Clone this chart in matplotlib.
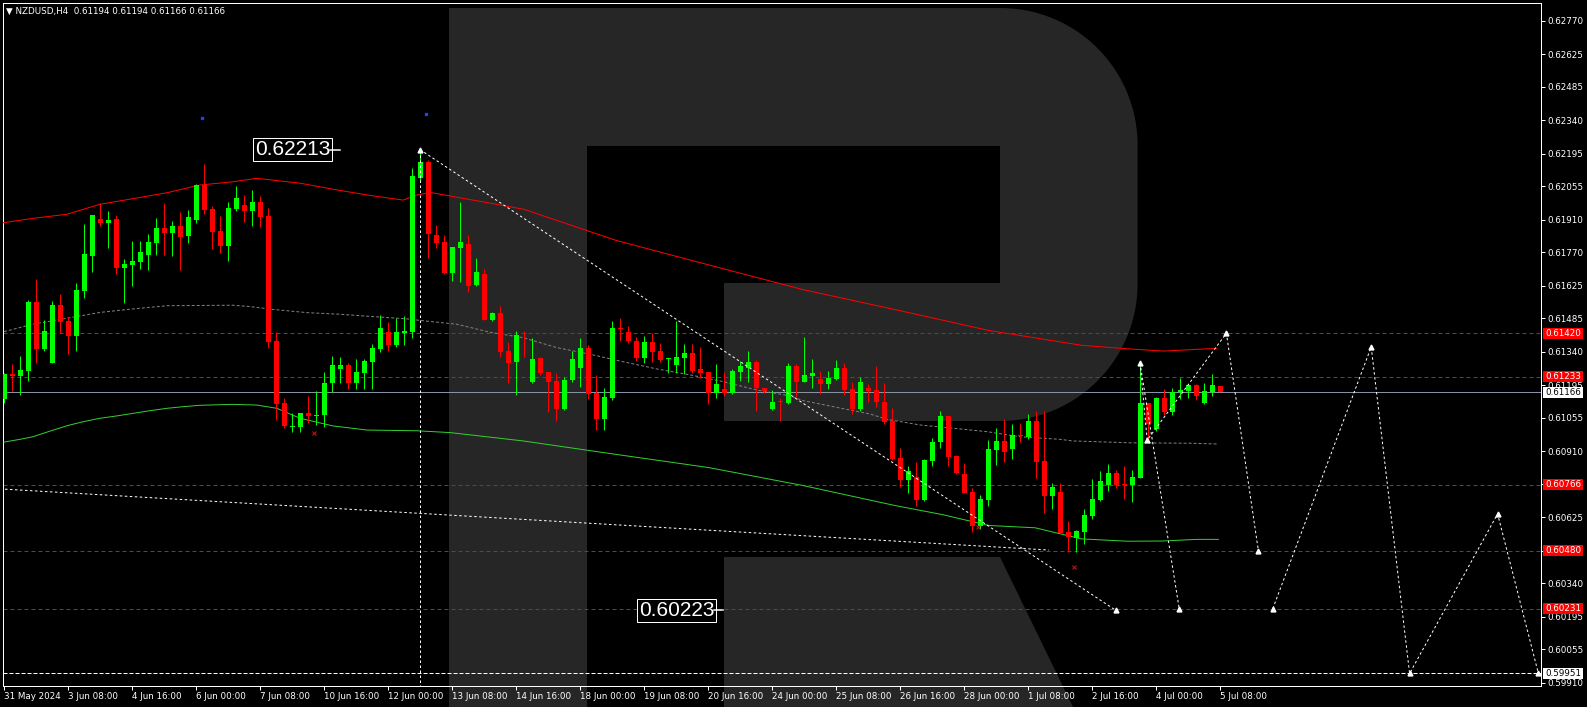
import numpy as np
import matplotlib
matplotlib.use("Agg")
import matplotlib.pyplot as plt
from matplotlib.patches import Polygon, Rectangle
from matplotlib.transforms import blended_transform_factory

plt.rcParams["lines.scale_dashes"] = False
plt.rcParams["font.family"] = ["DejaVu Sans"]

W, H = 1587, 707
PT = 0.72  # points per pixel at dpi 100

# NZDUSD H4 candles, 31 May 2024 00:00 .. 5 Jul 2024 08:00
opens = [0.61136, 0.61244, 0.61235, 0.61257, 0.61555, 0.61352, 0.61292, 0.61542, 0.61473, 0.61408,
         0.61603, 0.61754, 0.61913, 0.61896, 0.61913, 0.61702, 0.61715, 0.61727, 0.61758, 0.61810,
         0.61875, 0.61853, 0.61883, 0.61840, 0.61909, 0.62060, 0.61957, 0.61862, 0.61797, 0.61957,
         0.61974, 0.61948, 0.61987, 0.61926, 0.61387, 0.61119, 0.61015, 0.61015, 0.61076, 0.61063,
         0.61067, 0.61205, 0.61266, 0.61283, 0.61205, 0.61248, 0.61296, 0.61352, 0.61426, 0.61370,
         0.61421, 0.61426, 0.62091, 0.62160, 0.61845, 0.61814, 0.61680, 0.61788, 0.61805, 0.61628,
         0.61676, 0.61477, 0.61507, 0.61344, 0.61296, 0.61421, 0.61210, 0.61313, 0.61253, 0.61214,
         0.61093, 0.61218, 0.61270, 0.61357, 0.61162, 0.61050, 0.61141, 0.61443, 0.61426, 0.61387,
         0.61313, 0.61383, 0.61344, 0.61309, 0.61283, 0.61313, 0.61335, 0.61266, 0.61253, 0.61162,
         0.61179, 0.61162, 0.61253, 0.61270, 0.61296, 0.61184, 0.61093, 0.61128, 0.61119, 0.61279,
         0.61210, 0.61235, 0.61222, 0.61201, 0.61222, 0.61270, 0.61179, 0.61093, 0.61184, 0.61175,
         0.61123, 0.61041, 0.60881, 0.60786, 0.60799, 0.60700, 0.60868, 0.60950, 0.61063, 0.60890,
         0.60812, 0.60735, 0.60588, 0.60700, 0.60916, 0.60955, 0.60920, 0.60981, 0.60972, 0.61041,
         0.60868, 0.60717, 0.60735, 0.60562, 0.60536, 0.60562, 0.60631, 0.60700, 0.60765, 0.60817,
         0.60769, 0.60765, 0.60795, 0.61119, 0.61007, 0.61141, 0.61080, 0.61166, 0.61171, 0.61197,
         0.61119, 0.61166, 0.61194]
highs = [0.61248, 0.61288, 0.61322, 0.61564, 0.61654, 0.61477, 0.61560, 0.61590, 0.61490, 0.61637,
         0.61892, 0.61931, 0.61982, 0.61948, 0.61931, 0.61741, 0.61818, 0.61818, 0.61849, 0.61918,
         0.61982, 0.61905, 0.61943, 0.61952, 0.62065, 0.62151, 0.61970, 0.61926, 0.61987, 0.62056,
         0.62017, 0.62039, 0.62013, 0.61961, 0.61426, 0.61141, 0.61076, 0.61076, 0.61149, 0.61171,
         0.61253, 0.61322, 0.61318, 0.61292, 0.61309, 0.61309, 0.61374, 0.61499, 0.61468, 0.61486,
         0.61495, 0.62133, 0.62213, 0.62168, 0.61888, 0.61845, 0.61793, 0.61987, 0.61845, 0.61745,
         0.61697, 0.61512, 0.61538, 0.61383, 0.61430, 0.61430, 0.61400, 0.61318, 0.61253, 0.61248,
         0.61231, 0.61344, 0.61400, 0.61370, 0.61240, 0.61184, 0.61473, 0.61486, 0.61452, 0.61404,
         0.61408, 0.61421, 0.61378, 0.61313, 0.61473, 0.61374, 0.61374, 0.61361, 0.61253, 0.61288,
         0.61253, 0.61266, 0.61300, 0.61344, 0.61305, 0.61184, 0.61175, 0.61141, 0.61292, 0.61288,
         0.61404, 0.61309, 0.61257, 0.61257, 0.61305, 0.61292, 0.61210, 0.61231, 0.61201, 0.61279,
         0.61205, 0.61097, 0.60924, 0.60847, 0.60864, 0.60877, 0.60968, 0.61085, 0.61063, 0.60894,
         0.60860, 0.60752, 0.60722, 0.60959, 0.61011, 0.61050, 0.61028, 0.61033, 0.61072, 0.61085,
         0.61085, 0.60773, 0.60773, 0.60609, 0.60571, 0.60661, 0.60791, 0.60825, 0.60855, 0.60830,
         0.60847, 0.60830, 0.61292, 0.61119, 0.61145, 0.61179, 0.61184, 0.61227, 0.61201, 0.61201,
         0.61205, 0.61244, 0.61194]
lows = [0.61119, 0.61171, 0.61153, 0.61214, 0.61292, 0.61344, 0.61292, 0.61421, 0.61331, 0.61344,
        0.61573, 0.61684, 0.61883, 0.61788, 0.61676, 0.61551, 0.61624, 0.61697, 0.61693, 0.61758,
        0.61758, 0.61754, 0.61693, 0.61810, 0.61896, 0.61935, 0.61784, 0.61767, 0.61732, 0.61948,
        0.61900, 0.61883, 0.61879, 0.61357, 0.61046, 0.61011, 0.60994, 0.60994, 0.61033, 0.61024,
        0.61015, 0.61166, 0.61205, 0.61179, 0.61179, 0.61179, 0.61179, 0.61339, 0.61344, 0.61361,
        0.61370, 0.61400, 0.62073, 0.61745, 0.61788, 0.61676, 0.61646, 0.61641, 0.61598, 0.61624,
        0.61477, 0.61473, 0.61318, 0.61205, 0.61153, 0.61318, 0.61205, 0.61240, 0.61080, 0.61041,
        0.61089, 0.61210, 0.61188, 0.61136, 0.61002, 0.61002, 0.61132, 0.61387, 0.61378, 0.61300,
        0.61292, 0.61296, 0.61296, 0.61248, 0.61248, 0.61244, 0.61248, 0.61227, 0.61115, 0.61141,
        0.61149, 0.61158, 0.61214, 0.61210, 0.61085, 0.61162, 0.61089, 0.61041, 0.61115, 0.61145,
        0.61210, 0.61184, 0.61158, 0.61179, 0.61218, 0.61153, 0.61072, 0.61085, 0.61123, 0.61102,
        0.61028, 0.60873, 0.60756, 0.60730, 0.60674, 0.60696, 0.60847, 0.60924, 0.60847, 0.60812,
        0.60730, 0.60562, 0.60575, 0.60674, 0.60851, 0.60864, 0.60877, 0.60950, 0.60963, 0.60795,
        0.60644, 0.60661, 0.60558, 0.60475, 0.60475, 0.60510, 0.60618, 0.60696, 0.60739, 0.60752,
        0.60705, 0.60692, 0.60795, 0.60959, 0.60998, 0.61067, 0.61067, 0.61136, 0.61141, 0.61132,
        0.61115, 0.61149, 0.61166]
closes = [0.61244, 0.61235, 0.61261, 0.61555, 0.61352, 0.61430, 0.61542, 0.61468, 0.61408, 0.61607,
          0.61763, 0.61931, 0.61896, 0.61909, 0.61702, 0.61719, 0.61732, 0.61771, 0.61814, 0.61875,
          0.61853, 0.61883, 0.61836, 0.61922, 0.62060, 0.61952, 0.61857, 0.61797, 0.61961, 0.62004,
          0.61948, 0.61987, 0.61922, 0.61383, 0.61115, 0.61020, 0.61020, 0.61076, 0.61063, 0.61067,
          0.61205, 0.61283, 0.61283, 0.61205, 0.61253, 0.61300, 0.61357, 0.61443, 0.61370, 0.61426,
          0.61430, 0.62099, 0.62160, 0.61849, 0.61810, 0.61680, 0.61793, 0.61814, 0.61624, 0.61684,
          0.61477, 0.61507, 0.61339, 0.61292, 0.61413, 0.61417, 0.61309, 0.61248, 0.61210, 0.61093,
          0.61218, 0.61309, 0.61357, 0.61158, 0.61050, 0.61145, 0.61443, 0.61439, 0.61387, 0.61313,
          0.61383, 0.61339, 0.61305, 0.61313, 0.61318, 0.61335, 0.61257, 0.61248, 0.61162, 0.61201,
          0.61162, 0.61257, 0.61279, 0.61296, 0.61184, 0.61171, 0.61123, 0.61123, 0.61279, 0.61210,
          0.61240, 0.61248, 0.61201, 0.61227, 0.61270, 0.61175, 0.61093, 0.61210, 0.61171, 0.61123,
          0.61037, 0.60877, 0.60786, 0.60825, 0.60700, 0.60873, 0.60950, 0.61063, 0.60886, 0.60817,
          0.60730, 0.60588, 0.60705, 0.60920, 0.60955, 0.60907, 0.60981, 0.60976, 0.61041, 0.60864,
          0.60717, 0.60756, 0.60558, 0.60540, 0.60566, 0.60636, 0.60705, 0.60782, 0.60817, 0.60765,
          0.60765, 0.60799, 0.61119, 0.61028, 0.61141, 0.61080, 0.61166, 0.61175, 0.61197, 0.61149,
          0.61171, 0.61197, 0.61166]

# moving averages, sampled at candle positions
red_ma_x = [-0.5, 3.6, 7.9, 12.0, 16.1, 20.4, 24.5, 28.6, 31.6, 37.0, 41.1, 45.4, 49.9, 51.6,
            53.3, 62.0, 65.0, 76.5, 88.1, 99.8, 111.4, 123.1, 134.7, 139.6, 144.9, 151.6]
red_ma_y = [0.61895, 0.61916, 0.61934, 0.61977, 0.62001, 0.62027, 0.62060, 0.62074, 0.62089,
            0.62068, 0.62042, 0.62017, 0.61995, 0.62017, 0.62028, 0.61974, 0.61955, 0.61821,
            0.61715, 0.61609, 0.61522, 0.61432, 0.61368, 0.61355, 0.61343, 0.61355]
gray_ma_x = [0, 3.6, 7.9, 12.0, 16.1, 20.4, 28.6, 30.8, 33.6, 37.9, 42.0, 46.1, 50.4, 52.4,
             56.6, 60.8, 64.9, 69.1, 73.3, 77.4, 81.6, 85.8, 89.9, 94.1, 98.3, 99.9, 104.1,
             108.3, 110.4, 114.5, 118.6, 122.9, 127.0, 132.0, 133.6, 140.8, 148.3, 151.6]
gray_ma_y = [0.61427, 0.61459, 0.61485, 0.61510, 0.61525, 0.61539, 0.61541, 0.61535, 0.61523,
             0.61509, 0.61502, 0.61492, 0.61482, 0.61474, 0.61459, 0.61424, 0.61401, 0.61358,
             0.61329, 0.61297, 0.61266, 0.61240, 0.61211, 0.61175, 0.61149, 0.61129, 0.61100,
             0.61071, 0.61048, 0.61024, 0.61010, 0.60995, 0.60973, 0.60962, 0.60955, 0.60947,
             0.60945, 0.60942]
green_ma_x = [0, 2.0, 3.6, 5.8, 7.9, 9.9, 12.0, 14.1, 16.1, 18.3, 20.4, 22.4, 24.5, 28.6, 31.6,
              34.1, 37.0, 41.1, 45.4, 51.6, 55.8, 64.9, 76.5, 88.1, 99.8, 111.4, 117.3, 123.1,
              128.9, 134.7, 140.5, 144.9, 149.1, 151.8]
green_ma_y = [0.60950, 0.60962, 0.60973, 0.60998, 0.61021, 0.61038, 0.61053, 0.61063, 0.61074,
              0.61086, 0.61096, 0.61103, 0.61109, 0.61113, 0.61110, 0.61096, 0.61053, 0.61020,
              0.61002, 0.60999, 0.60991, 0.60955, 0.60897, 0.60840, 0.60763, 0.60676, 0.60637,
              0.60590, 0.60580, 0.60532, 0.60522, 0.60523, 0.60530, 0.60530]

# drawn levels and forecast paths
red_levels = [0.61420, 0.61233, 0.60766, 0.60480, 0.60231]
white_level = 0.59951
last_price = 0.61166
trend_x, trend_y = [52, 139], [0.62213, 0.60223]
support_x, support_y = [-0.5, 130.6], [0.60748, 0.60484]
fc_a_x, fc_a_y = [142, 142.9, 152.8, 156.8], [0.61292, 0.60959, 0.61420, 0.60480]
fc_b_x, fc_b_y = [142, 146.9], [0.61292, 0.60231]
fc_c_x = [158.6, 170.9, 175.7, 186.7, 191.8]
fc_c_y = [0.60231, 0.61361, 0.59951, 0.60640, 0.59951]
red_marks_x, red_marks_y = [38.7, 121.8, 133.8], [0.60988, 0.60582, 0.60411]
blue_marks_x, blue_marks_y = [24.7, 52.8], [0.62348, 0.62366]

price_ticks = [0.62770, 0.62625, 0.62485, 0.62340, 0.62195, 0.62055, 0.61910, 0.61770,
               0.61625, 0.61485, 0.61340, 0.61195, 0.61055, 0.60910, 0.60770, 0.60625,
               0.60480, 0.60340, 0.60195, 0.60055, 0.59910]
date_labels = ["31 May 2024", "3 Jun 08:00", "4 Jun 16:00", "6 Jun 00:00", "7 Jun 08:00",
               "10 Jun 16:00", "12 Jun 00:00", "13 Jun 08:00", "14 Jun 16:00", "18 Jun 00:00",
               "19 Jun 08:00", "20 Jun 16:00", "24 Jun 00:00", "25 Jun 08:00", "26 Jun 16:00",
               "28 Jun 00:00", "1 Jul 08:00", "2 Jul 16:00", "4 Jul 00:00", "5 Jul 08:00"]
date_pos = list(range(0, 153, 8))

fig = plt.figure(figsize=(W / 100, H / 100), dpi=100, facecolor="black")

# background layer in pixel coordinates: watermark "R"
bg = fig.add_axes([0, 0, 1, 1], zorder=0)
bg.set_xlim(0, W)
bg.set_ylim(H, 0)
bg.axis("off")


def arc(cx, cy, r, a0, a1, n=30):
    t = np.radians(np.linspace(a0, a1, n))
    return np.column_stack([cx + r * np.cos(t), cy + r * np.sin(t)])


r_shape = np.vstack([
    [[449, 8], [1000.6, 8]],
    arc(1000.6, 145, 137, -90, 0),
    arc(1000.6, 284, 137, 0, 90),
    [[724, 421], [724, 283], [1000, 283], [1000, 146], [587, 146], [587, 707], [449, 707]],
])
bg.add_patch(Polygon(r_shape, closed=True, facecolor="#262626", edgecolor="none"))
bg.add_patch(Polygon([[724, 557], [1000, 557], [1073, 707], [724, 707]], closed=True,
                     facecolor="#262626", edgecolor="none"))
bg.text(6, 11, "\u25bc NZDUSD,H4  0.61194 0.61194 0.61166 0.61166", color="white",
        fontsize=6.3, va="center", ha="left")

# main chart
ax = fig.add_axes([2.5 / W, (H - 686) / H, (1541 - 2.5) / W, (686 - 2.7) / H], zorder=1)
ax.patch.set_visible(False)
ax.set_xlim(-0.1875, 192.125)
ax.set_ylim(0.598969, 0.628473)

for lv in red_levels:
    ax.axhline(lv, color="#ff0000", lw=PT, dashes=(4 * PT, 3 * PT), zorder=2)
ax.axhline(white_level, color="white", lw=PT, dashes=(4 * PT, 2 * PT), zorder=2)
ax.axhline(last_price, color="#8494a6", lw=PT, zorder=2)

ax.plot(red_ma_x, red_ma_y, color="#ff0000", lw=PT, zorder=3)
ax.plot(gray_ma_x, gray_ma_y, color="#808080", lw=PT, dashes=(3 * PT, 2 * PT), zorder=3)
ax.plot(green_ma_x, green_ma_y, color="#32cd32", lw=PT, zorder=3)

n = len(opens)
x = np.arange(n)
o, h, l, c = (np.array(v) for v in (opens, highs, lows, closes))
col = np.where(c >= o, "#00ff00", "#ff0000")
ax.vlines(x, l, h, colors=col, lw=PT, zorder=4)
ax.bar(x, np.maximum(np.abs(c - o), 0.00005), bottom=np.minimum(o, c), width=0.625,
       color=col, linewidth=0, zorder=5)

dots = dict(color="white", lw=PT, dashes=(2.5 * PT, 2.5 * PT), zorder=6)
ax.plot(trend_x, trend_y, **dots)
ax.plot(support_x, support_y, **dots)
ax.plot(fc_a_x, fc_a_y, **dots)
ax.plot(fc_b_x, fc_b_y, **dots)
ax.plot(fc_c_x, fc_c_y, **dots)
ax.plot([52, 52], [0.62213, 0.598969], **dots)
mk = dict(ls="none", marker="^", ms=3.5, color="white", zorder=7)
ax.plot(fc_a_x + fc_c_x + [146.9, 52, 139], fc_a_y + fc_c_y + [0.60231, 0.62213, 0.60223], **mk)
ax.plot(red_marks_x, red_marks_y, ls="none", marker="x", ms=3, mew=PT, color="#ff0000", zorder=7)
ax.plot(blue_marks_x, blue_marks_y, ls="none", marker="s", ms=2, color="#2040ff", zorder=7)

big = dict(color="white", fontsize=15, family=["Liberation Sans", "DejaVu Sans"], ha="center",
           va="center", zorder=8,
           bbox=dict(boxstyle="square,pad=0.08", facecolor="black", edgecolor="white", lw=PT))
ax.text(36.1, 0.62213, "0.62213", **big)
ax.plot([40.75, 42.0], [0.62213, 0.62213], color="white", lw=PT * 1.5, zorder=8)
ax.text(84.1, 0.60223, "0.60223", **big)
ax.plot([88.75, 89.9], [0.60223, 0.60223], color="white", lw=PT * 1.5, zorder=8)

# axes styling
for s in ax.spines.values():
    s.set_color("white")
    s.set_linewidth(PT)
ax.yaxis.tick_right()
ax.set_yticks(price_ticks)
ax.set_yticklabels([f"{p:.5f}" for p in price_ticks])
ax.tick_params(axis="y", colors="white", length=4 * PT, width=PT, pad=1.5, labelsize=6.3)
ax.set_xticks(date_pos)
ax.set_xticklabels(date_labels)
ax.tick_params(axis="x", colors="white", length=4 * PT, width=PT, pad=1.5, labelsize=6.3)
for t in ax.get_xticklabels():
    t.set_ha("left")

# price tags on the right scale
tr = blended_transform_factory(ax.transAxes, ax.transData)
bx0, bw, bh = (1543 - 2.5) / 1538.5, 40 / 1538.5, 11 * 4.318e-5
tags = [(lv, "#ff0000", "white") for lv in red_levels]
tags += [(last_price, "white", "black"), (white_level, "white", "black")]
for lv, fc, tc in tags:
    ax.add_patch(Rectangle((bx0, lv - bh / 2), bw, bh, transform=tr, facecolor=fc,
                           edgecolor="none", clip_on=False, zorder=9))
    ax.text(bx0 + bw / 2, lv, f"{lv:.5f}", transform=tr, color=tc, fontsize=6.3,
            ha="center", va="center", zorder=10, clip_on=False)

fig.savefig("out.png", dpi=100, facecolor="black")
